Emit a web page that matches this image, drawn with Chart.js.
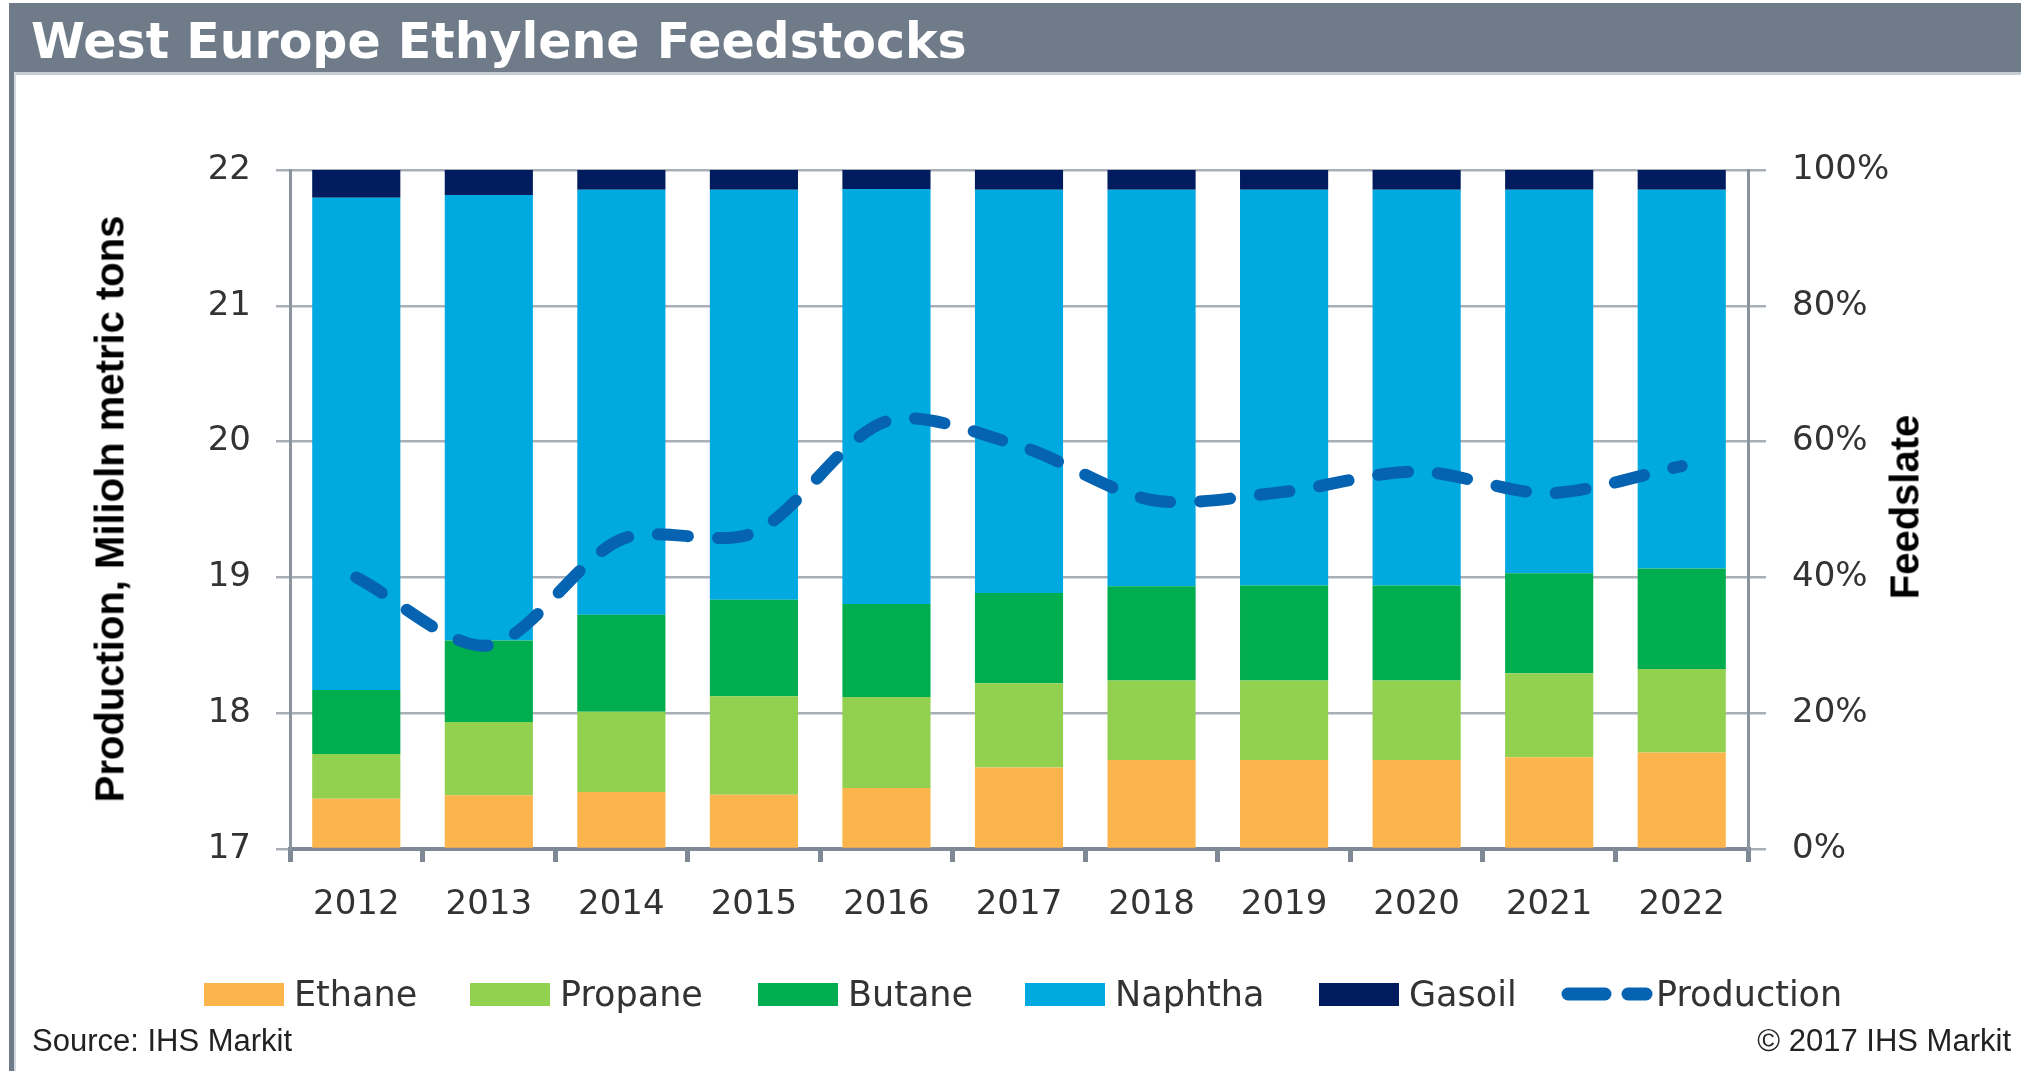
<!DOCTYPE html>
<html>
<head>
<meta charset="utf-8">
<title>West Europe Ethylene Feedstocks</title>
<script src="https://cdn.jsdelivr.net/npm/chart.js@4.4.0/dist/chart.umd.min.js"></script>
<style>
    html, body { margin: 0; padding: 0; background: #fff; }
    body { width: 2021px; height: 1071px; position: relative; overflow: hidden; }
    #chart { position: absolute; left: 0; top: 0; z-index: 1; }
    .ovl { position: absolute; z-index: 2; white-space: nowrap; }
    #frame-left { left: 9px; top: 3px; width: 5px; height: 1068px; background: #6f7b89; }
    #frame-inner { left: 14px; top: 72px; width: 2px; height: 999px; background: #d3d8de; }
    #title-bar { left: 9px; top: 3px; width: 2012px; height: 69px; background: #6f7b89;
        border-bottom: 3px solid #c6cdd5; }
    #title { left: 31px; top: 14px; height: 69px; line-height: 69px; color: #fff;
        font: bold 49px "DejaVu Sans", Verdana, sans-serif; }
    .axis-title { font: bold 40px "Liberation Sans", Arial, sans-serif; color: #000;
        transform: translate(-50%, -50%) rotate(-90deg); }
    .legend-item { top: 994px; transform: translateY(-50%); display: flex; align-items: center;
        font: 35px "DejaVu Sans", Verdana, sans-serif; color: #333; }
    .legend-box { width: 80px; height: 23px; margin-right: 10px; }
    .note { top: 1056px; transform: translateY(-100%); font: 31px "Liberation Sans", Arial, sans-serif; color: #222; line-height: 1; }
</style>
</head>
<body>
<canvas id="chart" width="2021" height="1071"></canvas>

<div class="ovl" id="title-bar"></div>
<div class="ovl" id="frame-left"></div>
<div class="ovl" id="frame-inner"></div>
<div class="ovl" id="title" style="top:3px; padding-top:9px; height:60px; line-height:60px;">West Europe Ethylene Feedstocks</div>

<div class="ovl axis-title" style="left:110px; top:509px;">Production, Milioln metric tons</div>
<div class="ovl axis-title" style="left:1905px; top:507px;">Feedslate</div>

<div id="legend"></div>

<div class="ovl note" style="left:32px;">Source: IHS Markit</div>
<div class="ovl note" style="right:10px;">© 2017 IHS Markit</div>

<script>
// West Europe ethylene feedstocks - feedslate shares (right axis) and production (left axis)

const years = ['2012', '2013', '2014', '2015', '2016', '2017', '2018', '2019', '2020', '2021', '2022'];

// feedslate shares, % of total
const ethane  = [7.4, 7.9, 8.4, 8.0, 9.0, 12.0, 13.1, 13.1, 13.1, 13.5, 14.2];
const propane = [6.6, 10.8, 11.8, 14.5, 13.4, 12.4, 11.7, 11.7, 11.7, 12.4, 12.3];
const butane  = [9.4, 12.0, 14.3, 14.2, 13.7, 13.3, 13.9, 14.0, 14.0, 14.7, 14.8];
const naphtha = [72.5, 65.6, 62.6, 60.4, 61.1, 59.4, 58.4, 58.3, 58.3, 56.5, 55.8];
const gasoil  = [4.1, 3.7, 2.9, 2.9, 2.8, 2.9, 2.9, 2.9, 2.9, 2.9, 2.9];

// ethylene production, million metric tons
const production = [19.0, 18.5, 19.28, 19.33, 20.15, 19.97, 19.57, 19.63, 19.78, 19.62, 19.82];

const leftTicks = [17, 18, 19, 20, 21, 22];
const rightTicks = [0, 20, 40, 60, 80, 100];

const W = 2021, H = 1071;
const plotLeft = 290, plotRight = 1748, plotTop = 170, plotBottom = 849;

const tickFont = { family: '"DejaVu Sans", Verdana, sans-serif', size: 34 };
const tickColor = '#333333';
const gridColor = '#a9afb7';
const axisColor = '#8a949f';

function barSet(label, data, color) {
    return {
        type: 'bar',
        label: label,
        data: data,
        yAxisID: 'y1',
        backgroundColor: color,
        borderWidth: 0,
        barPercentage: 0.665,
        categoryPercentage: 1,
        order: 1
    };
}

const datasets = [
    {
        type: 'line',
        label: 'Production',
        data: production,
        yAxisID: 'y',
        borderColor: '#0563b1',
        borderWidth: 12,
        borderDash: [30, 30],
        borderCapStyle: 'round',
        borderJoinStyle: 'round',
        pointRadius: 0,
        tension: 0.3,
        fill: false,
        order: 0
    },
    barSet('Ethane', ethane, '#fbb54c'),
    barSet('Propane', propane, '#92d050'),
    barSet('Butane', butane, '#00ad4f'),
    barSet('Naphtha', naphtha, '#00a9e0'),
    barSet('Gasoil', gasoil, '#001b5e')
];

new Chart(document.getElementById('chart'), {
    data: { labels: years, datasets: datasets },
    options: {
        responsive: false,
        animation: false,
        devicePixelRatio: 1,
        layout: { padding: { top: plotTop, left: 0, right: 0, bottom: 0 } },
        plugins: {
            legend: { display: false },
            tooltip: { enabled: false }
        },
        scales: {
            x: {
                stacked: true,
                offset: true,
                grid: { display: true, drawOnChartArea: false, offset: true, tickLength: 13, lineWidth: 5, color: '#7e8995' },
                border: { display: true, color: '#7e8995', width: 4 },
                ticks: { font: tickFont, color: tickColor, padding: 23, maxRotation: 0, autoSkip: false },
                afterFit: s => { s.height = H - plotBottom; }
            },
            y: {
                position: 'left',
                min: 17,
                max: 22,
                grid: { color: gridColor, lineWidth: 2.5, tickLength: 14 },
                border: { display: true, color: axisColor, width: 3 },
                ticks: { font: tickFont, color: tickColor, padding: 25 },
                afterBuildTicks: s => { s.ticks = leftTicks.map(v => ({ value: v })); },
                afterFit: s => { s.width = plotLeft; }
            },
            y1: {
                position: 'right',
                stacked: true,
                min: 0,
                max: 100,
                grid: { drawOnChartArea: false, color: gridColor, lineWidth: 2.5, tickLength: 18 },
                border: { display: true, color: axisColor, width: 3 },
                ticks: { font: tickFont, color: tickColor, padding: 26, callback: v => v + '%' },
                afterBuildTicks: s => { s.ticks = rightTicks.map(v => ({ value: v })); },
                afterFit: s => { s.width = W - plotRight; }
            }
        }
    }
});

// HTML legend, laid out like the original
const legendPos = { Ethane: 204, Propane: 470, Butane: 758, Naphtha: 1025, Gasoil: 1319, Production: 1556 };
const legend = document.getElementById('legend');
datasets.slice(1).concat(datasets[0]).forEach(ds => {
    const item = document.createElement('div');
    item.className = 'ovl legend-item';
    item.style.left = legendPos[ds.label] + 'px';
    if (ds.type === 'bar') {
        item.innerHTML = '<span class="legend-box" style="background:' + ds.backgroundColor + '"></span>' + ds.label;
    } else {
        item.innerHTML = '<svg width="100" height="24">' +
            '<line x1="12" y1="12" x2="49" y2="12" stroke="' + ds.borderColor + '" stroke-width="13" stroke-linecap="round"/>' +
            '<line x1="72" y1="12" x2="90" y2="12" stroke="' + ds.borderColor + '" stroke-width="13" stroke-linecap="round"/>' +
            '</svg>' + ds.label;
    }
    legend.appendChild(item);
});
</script>
</body>
</html>
